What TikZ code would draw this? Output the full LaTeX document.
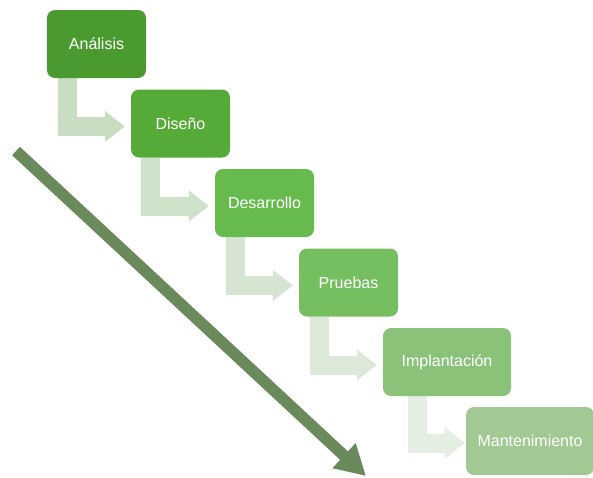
\documentclass[tikz,border=0pt]{standalone}
\usepackage{fontspec}
\setmainfont{Liberation Sans}
\usetikzlibrary{arrows.meta}

\definecolor{stepA}{HTML}{4A9A2F}
\definecolor{stepB}{HTML}{55AA38}
\definecolor{stepC}{HTML}{66BA4E}
\definecolor{stepD}{HTML}{75BF60}
\definecolor{stepE}{HTML}{8BC27A}
\definecolor{stepF}{HTML}{A2C993}
\definecolor{bendA}{HTML}{C8DDC2}
\definecolor{bendB}{HTML}{CEE1C9}
\definecolor{bendC}{HTML}{D5E5D1}
\definecolor{bendD}{HTML}{DCE9D9}
\definecolor{bendE}{HTML}{E5EEE3}
\definecolor{timearrow}{HTML}{6A8A5B}

\pgfdeclarelayer{back}
\pgfsetlayers{back,main}

\tikzset{
  stepbox/.style={rounded corners=8pt, text=white, minimum height=68pt,
    minimum width=99pt, font=\fontsize{16}{19}\selectfont, inner sep=0pt},
  widebox/.style={stepbox, minimum width=128pt},
  bentarrow/.style={line width=19pt, -{Triangle[width=30pt,length=20pt]}}
}

\begin{document}
\begin{tikzpicture}[x=1pt, y=-1pt]
  \useasboundingbox (0,0) rectangle (593,477);
  % steps
  \node[stepbox, fill=stepA] (ana) at (96.5,44) {Análisis};
  \node[stepbox, fill=stepB] (dis) at (180.5,123.5) {Diseño};
  \node[stepbox, fill=stepC] (des) at (264.5,203) {Desarrollo};
  \node[stepbox, fill=stepD] (pru) at (348.5,282.5) {Pruebas};
  \node[widebox, fill=stepE] (imp) at (447,362) {Implantación};
  \node[widebox, fill=stepF] (man) at (530,441) {Mantenimiento};
  % bent arrows, behind the boxes
  \begin{pgfonlayer}{back}
    \draw[bentarrow, bendA, shorten >=6pt] ([xshift=20.5pt]ana.south west) |- ([yshift=-3pt]dis.west);
    \draw[bentarrow, bendB, shorten >=6pt] ([xshift=20pt]dis.south west) |- ([yshift=-3pt]des.west);
    \draw[bentarrow, bendC, shorten >=6pt] ([xshift=20.5pt]des.south west) |- ([yshift=-3pt]pru.west);
    \draw[bentarrow, bendD, shorten >=6pt] ([xshift=21pt]pru.south west) |- ([yshift=-3pt]imp.west);
    \draw[bentarrow, bendE, shorten >=1pt] ([xshift=34.5pt]imp.south west) |- ([yshift=-2pt]man.west);
  \end{pgfonlayer}
  % time arrow
  \coordinate (start) at (16,151);
  \coordinate (end) at (366,476);
  \draw[timearrow, line width=11.5pt, -{Triangle[width=32pt,length=30pt]}] (start) -- (end);
\end{tikzpicture}
\end{document}
